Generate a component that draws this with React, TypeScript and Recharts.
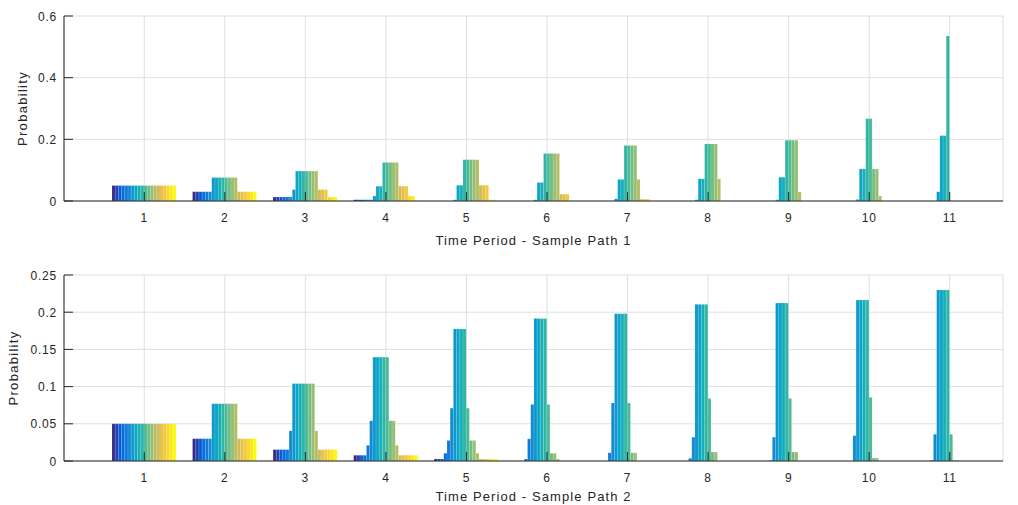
import { BarChart, Bar, XAxis, YAxis, CartesianGrid } from "recharts"

const periods = ["1", "2", "3", "4", "5", "6", "7", "8", "9", "10", "11"]

// sample path 1: probability of each of the 20 states per time period
const path1T1 = [0.05, 0.05, 0.05, 0.05, 0.05, 0.05, 0.05, 0.05, 0.05, 0.05, 0.05, 0.05, 0.05, 0.05, 0.05, 0.05, 0.05, 0.05, 0.05, 0.05]
const path1T2 = [0.03, 0.03, 0.03, 0.03, 0.03, 0.03, 0.076, 0.076, 0.076, 0.076, 0.076, 0.076, 0.076, 0.076, 0.03, 0.03, 0.03, 0.03, 0.03, 0.03]
const path1T3 = [0.013, 0.013, 0.013, 0.013, 0.013, 0.013, 0.037, 0.097, 0.097, 0.097, 0.097, 0.097, 0.097, 0.097, 0.037, 0.037, 0.037, 0.013, 0.013, 0.013]
const path1T4 = [0.004, 0.004, 0.004, 0.004, 0.004, 0.004, 0.016, 0.048, 0.048, 0.125, 0.125, 0.125, 0.125, 0.125, 0.048, 0.048, 0.048, 0.016, 0.016, 0.004]
const path1T5 = [0, 0, 0, 0, 0, 0, 0.004, 0.051, 0.051, 0.134, 0.134, 0.134, 0.134, 0.134, 0.051, 0.051, 0.051, 0.004, 0.004, 0]
const path1T6 = [0, 0, 0, 0, 0, 0, 0.004, 0.06, 0.06, 0.154, 0.154, 0.154, 0.154, 0.154, 0.022, 0.022, 0.022, 0, 0, 0]
const path1T7 = [0, 0, 0, 0, 0, 0, 0.007, 0.07, 0.07, 0.18, 0.18, 0.18, 0.18, 0.07, 0.006, 0.006, 0.006, 0, 0, 0]
const path1T8 = [0, 0, 0, 0, 0, 0, 0.004, 0.072, 0.072, 0.185, 0.185, 0.185, 0.185, 0.072, 0, 0, 0, 0, 0, 0]
const path1T9 = [0, 0, 0, 0, 0, 0, 0.004, 0.077, 0.077, 0.197, 0.197, 0.197, 0.197, 0.029, 0, 0, 0, 0, 0, 0]
const path1T10 = [0, 0, 0, 0, 0, 0, 0.005, 0.104, 0.104, 0.267, 0.267, 0.104, 0.104, 0.016, 0, 0, 0, 0, 0, 0]
const path1T11 = [0, 0, 0, 0, 0, 0, 0.03, 0.212, 0.212, 0.535, 0, 0, 0, 0, 0, 0, 0, 0, 0, 0]

// sample path 2
const path2T1 = [0.05, 0.05, 0.05, 0.05, 0.05, 0.05, 0.05, 0.05, 0.05, 0.05, 0.05, 0.05, 0.05, 0.05, 0.05, 0.05, 0.05, 0.05, 0.05, 0.05]
const path2T2 = [0.03, 0.03, 0.03, 0.03, 0.03, 0.03, 0.077, 0.077, 0.077, 0.077, 0.077, 0.077, 0.077, 0.077, 0.03, 0.03, 0.03, 0.03, 0.03, 0.03]
const path2T3 = [0.0153, 0.0153, 0.0153, 0.0153, 0.0153, 0.0405, 0.104, 0.104, 0.104, 0.104, 0.104, 0.104, 0.104, 0.0405, 0.0153, 0.0153, 0.0153, 0.0153, 0.0153, 0.0153]
const path2T4 = [0.0077, 0.0077, 0.0077, 0.0077, 0.021, 0.054, 0.1396, 0.1396, 0.1396, 0.1396, 0.1396, 0.054, 0.054, 0.021, 0.0077, 0.0077, 0.0077, 0.0077, 0.0077, 0.0077]
const path2T5 = [0.0027, 0.0027, 0.0027, 0.0104, 0.0275, 0.071, 0.1775, 0.1775, 0.1775, 0.1775, 0.071, 0.0275, 0.0275, 0.0104, 0.0027, 0.0027, 0.0027, 0.0027, 0.0027, 0.0027]
const path2T6 = [0, 0, 0, 0.0027, 0.0297, 0.076, 0.1914, 0.1914, 0.1914, 0.1914, 0.076, 0.0104, 0.0104, 0.0027, 0, 0, 0, 0, 0, 0]
const path2T7 = [0, 0, 0, 0, 0.011, 0.078, 0.198, 0.198, 0.198, 0.198, 0.078, 0.011, 0.011, 0, 0, 0, 0, 0, 0, 0]
const path2T8 = [0, 0, 0, 0, 0.0036, 0.032, 0.2105, 0.2105, 0.2105, 0.2105, 0.084, 0.012, 0.012, 0, 0, 0, 0, 0, 0, 0]
const path2T9 = [0, 0, 0, 0, 0.001, 0.032, 0.2123, 0.2123, 0.2123, 0.2123, 0.084, 0.012, 0.012, 0, 0, 0, 0, 0, 0, 0]
const path2T10 = [0, 0, 0, 0, 0, 0.034, 0.2164, 0.2164, 0.2164, 0.2164, 0.0855, 0.004, 0.004, 0, 0, 0, 0, 0, 0, 0]
const path2T11 = [0, 0, 0, 0, 0.001, 0.036, 0.23, 0.23, 0.23, 0.23, 0.036, 0.001, 0.001, 0, 0, 0, 0, 0, 0, 0]

const path1 = [path1T1, path1T2, path1T3, path1T4, path1T5, path1T6, path1T7, path1T8, path1T9, path1T10, path1T11]
const path2 = [path2T1, path2T2, path2T3, path2T4, path2T5, path2T6, path2T7, path2T8, path2T9, path2T10, path2T11]

const ticks1 = [0, 0.2, 0.4, 0.6]
const tickLabels1 = ["0", "0.2", "0.4", "0.6"]
const ticks2 = [0, 0.05, 0.1, 0.15, 0.2, 0.25]
const tickLabels2 = ["0", "0.05", "0.1", "0.15", "0.2", "0.25"]

// parula, 20 steps
const colors = [
  "#352a87", "#2042ad", "#0b5ad3", "#076cde", "#0f7ad8",
  "#1389d3", "#0d97cd", "#07a5c7", "#18aeb7", "#2db5a6",
  "#4bba95", "#71bd83", "#96bf71", "#b4bd65", "#d1ba59",
  "#e4c049", "#f3c938", "#fcd529", "#fae815", "#f9fb0e",
]

const INK = "#262626"
const GRID = "#dfdfdf"
const FONT = "'Liberation Sans', Arial, Helvetica, sans-serif"
const TICK_LEN = 9

function toRows(path: number[][]) {
  return periods.map((p, k) => {
    const row: Record<string, number | string> = { period: p }
    path[k].forEach((v, i) => {
      row["s" + i] = v
    })
    return row
  })
}

const data1 = toRows(path1)
const data2 = toRows(path2)

function BottomTick(props: any) {
  const { x, y, payload } = props
  return (
    <g>
      <line x1={x} y1={y} x2={x} y2={y - TICK_LEN} stroke={INK} />
      <text x={x} y={y + 21} textAnchor="middle" fill={INK} fontSize={12} fontFamily={FONT} letterSpacing={0.8}>
        {payload.value}
      </text>
    </g>
  )
}

function TopTick(props: any) {
  const { x, y } = props
  return <line x1={x} y1={y} x2={x} y2={y + TICK_LEN} stroke={INK} />
}

function RightTick(props: any) {
  const { x, y } = props
  return <line x1={x} y1={y} x2={x - TICK_LEN} y2={y} stroke={INK} />
}

function leftTick(ticks: number[], labels: string[]) {
  return (props: any) => {
    const { x, y, payload } = props
    const label = labels[ticks.indexOf(payload.value)]
    return (
      <g>
        <line x1={x} y1={y} x2={x + TICK_LEN} y2={y} stroke={INK} />
        <text x={x - 7} y={y + 4.5} textAnchor="end" fill={INK} fontSize={12} fontFamily={FONT} letterSpacing={0.8}>
          {label}
        </text>
      </g>
    )
  }
}

function xTitle(text: string, offset: number) {
  return (props: any) => {
    const { x, y, width, height } = props.viewBox
    return (
      <text x={x + width / 2} y={y + height - offset} textAnchor="middle" fill={INK} fontSize={13} fontFamily={FONT} letterSpacing={1.1}>
        {text}
      </text>
    )
  }
}

function yTitle(cx: number) {
  return (props: any) => {
    const { y, height } = props.viewBox
    const cy = y + height / 2
    return (
      <text x={cx} y={cy} dy={4.5} textAnchor="middle" transform={`rotate(-90, ${cx}, ${cy})`} fill={INK} fontSize={13} fontFamily={FONT} letterSpacing={1.3}>
        Probability
      </text>
    )
  }
}

interface PathChartProps {
  data: Record<string, number | string>[]
  ticks: number[]
  labels: string[]
  height: number
  top: number
  axisHeight: number
  title: string
  titleOffset: number
  yTitleX: number
}

function PathChart({ data, ticks, labels, height, top, axisHeight, title, titleOffset, yTitleX }: PathChartProps) {
  const domain = [0, ticks[ticks.length - 1]]
  return (
    <BarChart width={1018} height={height} data={data} margin={{ top, right: 15, bottom: 0, left: 0 }} barGap={0} barSize={3.2}>
      <CartesianGrid stroke={GRID} />
      {colors.map((c, i) => (
        <Bar key={i} dataKey={"s" + i} fill={c} stroke="#ffffff" strokeOpacity={0.3} strokeWidth={0.4} isAnimationActive={false} />
      ))}
      <XAxis
        dataKey="period"
        padding={{ left: 40, right: 13 }}
        height={axisHeight}
        interval={0}
        tickSize={0}
        tickMargin={0}
        tickLine={false}
        axisLine={{ stroke: INK }}
        tick={<BottomTick />}
        label={{ content: xTitle(title, titleOffset) }}
      />
      <XAxis
        xAxisId="top"
        orientation="top"
        dataKey="period"
        padding={{ left: 40, right: 13 }}
        height={0}
        interval={0}
        tickSize={0}
        tickMargin={0}
        tickLine={false}
        axisLine={{ stroke: INK }}
        tick={<TopTick />}
      />
      <YAxis
        type="number"
        domain={domain}
        ticks={ticks}
        width={64}
        interval={0}
        tickSize={0}
        tickMargin={0}
        tickLine={false}
        axisLine={{ stroke: INK }}
        tick={leftTick(ticks, labels)}
        label={{ content: yTitle(yTitleX) }}
      />
      <YAxis
        yAxisId="right"
        orientation="right"
        type="number"
        domain={domain}
        allowDataOverflow
        ticks={ticks}
        width={0}
        interval={0}
        tickSize={0}
        tickMargin={0}
        tickLine={false}
        axisLine={{ stroke: INK }}
        tick={<RightTick />}
      />
    </BarChart>
  )
}

export default function App() {
  return (
    <div style={{ position: "absolute", left: 0, top: 0, width: 1018, height: 505, background: "#fff", overflow: "hidden" }}>
      <PathChart
        data={data1}
        ticks={ticks1}
        labels={tickLabels1}
        height={250}
        top={16}
        axisHeight={49}
        title="Time Period - Sample Path 1"
        titleOffset={5}
        yTitleX={22}
      />
      <PathChart
        data={data2}
        ticks={ticks2}
        labels={tickLabels2}
        height={255}
        top={25}
        axisHeight={44}
        title="Time Period - Sample Path 2"
        titleOffset={4}
        yTitleX={13}
      />
    </div>
  )
}
